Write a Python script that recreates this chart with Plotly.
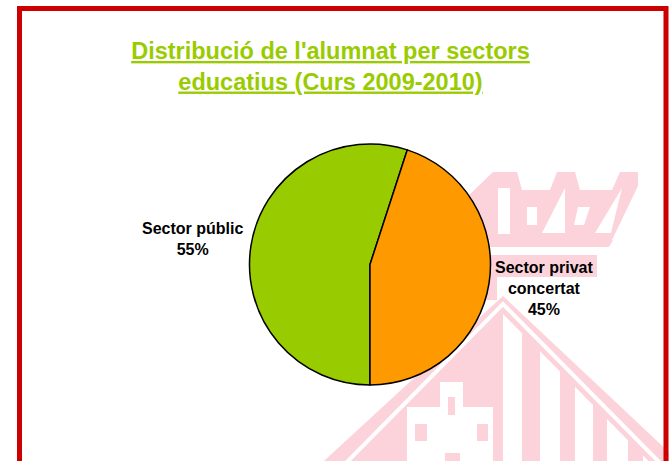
import textwrap
import plotly.graph_objects as go

# ---- data ----
categories = ["Sector públic", "Sector privat concertat"]
values = [55, 45]
colors = ["#99cc00", "#ff9900"]
title_lines = ["Distribució de l'alumnat per sectors", "educatius (Curs 2009-2010)"]

W, H = 669, 461


def px(x):
    return x / W


def py(y):
    return 1 - y / H


def poly(pts):
    return "M " + " L ".join(f"{px(x):.5f},{py(y):.5f}" for x, y in pts) + " Z"


PINK = "#fdd3db"
shapes = []


def add_poly(pts, color):
    shapes.append(dict(type="path", xref="paper", yref="paper", path=poly(pts),
                       fillcolor=color, line=dict(width=0), layer="below"))


def add_rect(x0, y0, x1, y1, color):
    add_poly([(x0, y0), (x1, y0), (x1, y1), (x0, y1)], color)


# ---- watermark (faint coat of arms) ----
# crown
add_poly([(468, 196), (493, 172), (517, 172), (522, 190), (550, 190), (557, 172),
          (575, 172), (580, 190), (612, 190), (620, 172), (638, 172), (638, 186),
          (612, 240), (468, 240)], PINK)
add_rect(498, 188, 510, 234, "white")
add_rect(527, 207, 537, 225, "white")
add_poly([(565, 188), (542, 233), (565, 233)], "white")
add_poly([(578, 207), (590, 207), (584, 225), (574, 225)], "white")
add_poly([(622, 188), (595, 233), (611, 233)], "white")
# bands below the crown
add_poly([(490, 240), (613, 240), (609, 247), (490, 247)], PINK)
add_rect(485, 255, 597, 277, PINK)
add_rect(485, 255, 497, 300, PINK)
# tent
add_poly([(503, 296), (312, 472), (690, 472)], PINK)
shapes.append(dict(type="path", xref="paper", yref="paper",
                   path=f"M {px(343):.5f},{py(466):.5f} L {px(503):.5f},{py(304):.5f} L {px(663):.5f},{py(466):.5f}",
                   line=dict(color="white", width=4), layer="below"))
for x0, x1 in [(503, 522), (540, 560), (575, 593), (607, 628), (643, 663)]:
    top0 = 304 + (x0 - 503) * 1.01 + 10
    top1 = 304 + (x1 - 503) * 1.01 + 10
    add_poly([(x0, top0), (x1, top1), (x1, 470), (x0, 470)], "white")
# castle
add_rect(407, 407, 493, 470, "white")
add_rect(440, 382, 463, 407, "white")
add_rect(415, 424, 427, 441, PINK)
add_rect(448, 397, 455, 415, PINK)
add_rect(477, 424, 488, 441, PINK)
add_rect(445, 453, 460, 470, PINK)

# ---- red frame ----
shapes.append(dict(type="rect", xref="paper", yref="paper",
                   x0=px(19.5), x1=px(666), y0=py(8.5), y1=py(480),
                   line=dict(color="#cc0000", width=5), fillcolor="rgba(0,0,0,0)",
                   layer="above"))

# ---- pie ----
cx, cy, r = 370, 264.5, 120.5
fig = go.Figure(go.Pie(
    labels=categories, values=values, sort=False, direction="clockwise",
    rotation=180, textinfo="none", hoverinfo="label+percent",
    marker=dict(colors=colors, line=dict(color="black", width=1.5)),
    domain=dict(x=[px(cx - r), px(cx + r)], y=[py(cy + r), py(cy - r)]),
    showlegend=False,
))

total = sum(values)
label_pos = [(192.5, 238.5), (544, 288.5)]
annotations = []
for cat, v, (ax, ay) in zip(categories, values, label_pos):
    txt = "<br>".join(textwrap.wrap(cat, 13)) + f"<br>{round(v / total * 100)}%"
    annotations.append(dict(text=f"<b>{txt}</b>", x=px(ax), y=py(ay),
                            xref="paper", yref="paper",
                            xanchor="center", yanchor="middle", showarrow=False,
                            font=dict(family="Arial, Liberation Sans, sans-serif",
                                      size=16, color="black")))

fig.update_layout(
    width=W, height=H,
    margin=dict(l=0, r=0, t=0, b=0),
    paper_bgcolor="white", plot_bgcolor="white",
    title=dict(text="<br>".join(f"<b><u>{t}</u></b>" for t in title_lines),
               x=px(330.5), xanchor="center", xref="paper",
               y=py(59), yanchor="top", yref="paper",
               font=dict(family="Arial, Liberation Sans, sans-serif", size=23.5,
                         color="#99cc00")),
    shapes=shapes,
    annotations=annotations,
)

fig.write_html(
    "out.html",
    config={"displayModeBar": False},
    post_script="document.body.style.margin='0px';document.body.style.overflow='hidden';",
)
